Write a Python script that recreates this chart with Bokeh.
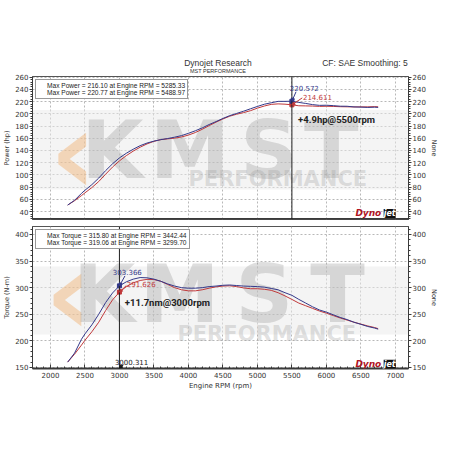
from bokeh.plotting import figure
from bokeh.models import (LinearAxis, SingleIntervalTicker, Label, Span, Arrow,
                          NormalHead, Legend, LegendItem, Range1d, BoxAnnotation)
from bokeh.layouts import column
from bokeh.embed import file_html
from bokeh.resources import INLINE

# ---------------- data ----------------
rpm = [2250, 2350, 2450, 2500, 2600, 2700, 2800, 2900, 3000, 3100, 3200, 3300, 3400,
       3500, 3600, 3700, 3800, 3900, 4000, 4100, 4200, 4300, 4400, 4500, 4600, 4700,
       4800, 4900, 5000, 5100, 5200, 5300, 5400, 5500, 5600, 5700, 5800, 5900, 6000,
       6100, 6200, 6300, 6400, 6500, 6600, 6700, 6750]

power_blue = [50.6, 58.4, 69.8, 74.8, 84.0, 94.8, 107.0, 118.1, 127.8, 135.4, 142.0, 147.8, 152.1,
              155.3, 157.7, 159.5, 161.7, 164.3, 168.0, 172.2, 176.9, 182.4, 187.2, 192.4, 197.0, 200.6,
              204.2, 208.2, 212.0, 215.6, 218.0, 220.3, 220.3, 220.6, 218.6, 216.9, 215.0, 213.8, 214.0,
              213.3, 212.4, 212.3, 211.2, 210.9, 210.4, 210.8, 210.4]
power_red = [50.6, 57.8, 66.1, 70.6, 79.2, 89.1, 101.1, 112.8, 122.9, 131.5, 138.9, 145.3, 150.7,
             154.9, 157.7, 159.0, 160.1, 162.1, 165.1, 169.3, 174.6, 180.6, 186.3, 191.5, 196.1, 199.3,
             201.9, 205.1, 209.2, 212.7, 215.4, 216.2, 215.7, 214.6, 213.1, 212.9, 212.6, 212.1, 212.3,
             212.0, 211.6, 211.4, 211.2, 211.3, 211.3, 211.7, 211.4]

torque_blue = [160, 177, 203, 213, 230, 250, 272, 290, 303.4, 311, 316, 319, 318.5,
               316, 312, 307, 303, 300, 299, 299, 300, 302, 303, 304.5, 305, 304,
               303, 302.5, 302, 301, 298.5, 296, 290.5, 285.6, 278, 271, 264, 258, 254,
               249, 244, 240, 235, 231, 227, 224, 222]
torque_red = [160, 175, 192, 201, 217, 235, 257, 277, 291.6, 302, 309, 313.5, 315.6,
              315.2, 312, 306, 300, 296, 294, 294, 296, 299, 301.5, 303, 303.5, 302,
              299.5, 298, 298, 297, 295, 290.5, 284.5, 277.9, 271, 266, 261, 256, 252,
              247.5, 243, 239, 235, 231.5, 228, 225, 223]

power_legend = ["Max Power = 216.10 at Engine RPM = 5285.33",
                "Max Power = 220.77 at Engine RPM = 5488.97"]
torque_legend = ["Max Torque = 315.80 at Engine RPM = 3442.44",
                 "Max Torque = 319.06 at Engine RPM = 3299.70"]

cursor_power_rpm = 5500
cursor_power_vals = [214.611, 220.572]      # red, blue
cursor_torque_rpm = 3000
cursor_torque_vals = [291.626, 303.366]     # red, blue
cursor_torque_x_label = "3000.311"
power_gain_text = "+4.9hp@5500rpm"
torque_gain_text = "+11.7nm@3000rpm"

RED = "#c0393b"
BLUE = "#34398a"
FONT = "DejaVu Sans"
LFONT = "Liberation Sans"
AX = "#3a3a3a"
XR = (1740, 7190)


def style(p, ylabel, y_interval):
    p.background_fill_color = "white"
    p.border_fill_color = "white"
    p.outline_line_color = "#555555"
    p.xgrid.ticker = SingleIntervalTicker(interval=500)
    p.ygrid.ticker = SingleIntervalTicker(interval=y_interval)
    for g in (p.xgrid, p.ygrid):
        g.grid_line_color = "#b8b8b8"
        g.grid_line_dash = "2 2"
        g.grid_line_width = 1
    xa = p.xaxis[0]
    xa.ticker = SingleIntervalTicker(interval=500, num_minor_ticks=5)
    xa.axis_line_color = AX
    xa.axis_line_width = 2
    xa.major_tick_in = 4
    xa.major_tick_out = 0
    xa.minor_tick_in = 2
    xa.minor_tick_out = 0
    xa.major_tick_line_color = AX
    xa.minor_tick_line_color = AX
    xa.major_label_text_font = FONT
    xa.major_label_text_font_size = "7px"
    xa.major_label_text_color = "#333333"
    xa.major_label_standoff = 3
    xa.axis_label_text_font = FONT
    xa.axis_label_text_font_size = "7px"
    xa.axis_label_text_font_style = "normal"
    xa.axis_label_text_color = "#333333"
    xa.axis_label_standoff = 1
    ya = p.yaxis[0]
    ya.ticker = SingleIntervalTicker(interval=y_interval, num_minor_ticks=5)
    ya.axis_label = ylabel
    right = LinearAxis(axis_label="None",
                       ticker=SingleIntervalTicker(interval=y_interval, num_minor_ticks=5))
    p.add_layout(right, "right")
    for a in (ya, right):
        a.axis_line_color = AX
        a.axis_line_width = 1
        a.major_tick_out = 3
        a.major_tick_in = 0
        a.minor_tick_out = 2
        a.minor_tick_in = 0
        a.major_tick_line_color = AX
        a.minor_tick_line_color = AX
        a.major_label_text_font = FONT
        a.major_label_text_font_size = "7px"
        a.major_label_text_color = "#333333"
        a.major_label_standoff = 1
        a.axis_label_text_font = FONT
        a.axis_label_text_font_size = "6.5px"
        a.axis_label_text_font_style = "normal"
        a.axis_label_text_color = "#333333"
        a.axis_label_standoff = 1


def watermark(p, band, letters, y_mst, x_perf, y_perf, x_chev, y_chev):
    p.add_layout(BoxAnnotation(bottom=band[0], top=band[1], fill_color="#e9e9e9",
                               fill_alpha=0.5, line_color=None, level="underlay"))
    p.add_layout(Label(x=x_chev, y=y_chev, text="‹", text_font=FONT, text_font_style="bold",
                       text_font_size="115px", text_color="#f0a860", text_alpha=0.4,
                       text_baseline="middle", text_align="center", level="underlay"))
    for letter, xc in zip("KMST", letters):
        p.add_layout(Label(x=xc, y=y_mst, text=letter, text_font=FONT, text_font_style="bold",
                           text_font_size="80px", text_color="#8a8a8a", text_alpha=0.28,
                           text_baseline="middle", text_align="center", level="underlay"))
    p.add_layout(Label(x=x_perf, y=y_perf, text="PERFORMANCE", text_font=FONT,
                       text_font_style="bold", text_font_size="21px",
                       text_color="#9a9a9a", text_alpha=0.3,
                       text_baseline="middle", text_align="left", level="underlay"))


def dynologo(p, y):
    p.add_layout(Label(x=6420, y=y, text="Dyno", text_font=FONT, text_font_style="bold italic",
                       text_font_size="9px", text_color="#b0141f", text_baseline="middle"))
    p.add_layout(Label(x=6830, y=y, text="jet", text_font=FONT, text_font_style="bold italic",
                       text_font_size="8px", text_color="white", text_baseline="middle",
                       background_fill_color="#111111"))


def make_legend(p, labels):
    r1 = p.scatter(x=[], y=[], marker="square", size=6, color=RED)
    r2 = p.scatter(x=[], y=[], marker="square", size=6, color=BLUE)
    leg = Legend(items=[LegendItem(label=labels[0], renderers=[r1]),
                        LegendItem(label=labels[1], renderers=[r2])],
                 location="top_left", margin=3, padding=2, spacing=0,
                 label_text_font=LFONT, label_text_font_size="6.6px", label_height=7,
                 glyph_height=7, glyph_width=7, label_standoff=2,
                 label_text_color="#222222",
                 border_line_color="#333333", border_line_width=1)
    p.add_layout(leg)


# ---------------- header strip ----------------
p0 = figure(width=440, height=73, x_range=Range1d(0, 440), y_range=Range1d(0, 73),
            output_backend="svg", toolbar_location=None,
            x_axis_location=None, y_axis_location=None,
            min_border_left=0, min_border_right=0, min_border_top=0, min_border_bottom=0)
p0.grid.visible = False
p0.outline_line_color = None
p0.add_layout(Label(x=217, y=11, text="Dynojet Research", text_font=LFONT,
                    text_font_size="8.5px", text_color="#333333", text_align="center",
                    text_baseline="middle"))
p0.add_layout(Label(x=217, y=3, text="MST PERFORMANCE", text_font=LFONT,
                    text_font_size="5.5px", text_color="#333333", text_align="center",
                    text_baseline="middle"))
p0.add_layout(Label(x=339, y=11, text="CF: SAE Smoothing: 5", text_font=LFONT,
                    text_font_size="8.5px", text_color="#333333", text_align="left",
                    text_baseline="middle"))

# ---------------- power panel ----------------
p1 = figure(width=440, height=149, x_range=Range1d(*XR), y_range=Range1d(27, 261),
            output_backend="svg", toolbar_location=None, frame_height=143,
            min_border_left=26, min_border_right=30, min_border_top=3, min_border_bottom=3)
style(p1, "Power (hp)", 20)
p1.xaxis.visible = False
p1.add_layout(Span(location=27, dimension="width", line_color=AX, line_width=3))
watermark(p1, (76, 206), [2900, 4020, 5170, 6070], 139.5, 4000, 94, 2330, 136)
dynologo(p1, 37)

p1.line(rpm, power_red, color=RED, line_width=1)
p1.line(rpm, power_blue, color=BLUE, line_width=1)
make_legend(p1, power_legend)

p1.add_layout(Span(location=cursor_power_rpm, dimension="height", line_color="#222222", line_width=1))
p1.scatter([cursor_power_rpm, cursor_power_rpm], cursor_power_vals, marker="square", size=4,
           color=[RED, BLUE])
p1.add_layout(Label(x=5470, y=242, text="220.572", text_font=FONT, text_font_size="7px",
                    text_color="#34398a", text_baseline="middle"))
p1.add_layout(Label(x=5660, y=227, text="214.611", text_font=FONT, text_font_size="7px",
                    text_color=RED, text_baseline="middle"))
p1.add_layout(Arrow(end=NormalHead(size=3, line_color=BLUE, fill_color=BLUE),
                    x_start=5560, y_start=236, x_end=cursor_power_rpm, y_end=cursor_power_vals[1],
                    line_color=BLUE, line_width=1))
p1.add_layout(Arrow(end=NormalHead(size=3, line_color=RED, fill_color=RED),
                    x_start=5650, y_start=226, x_end=cursor_power_rpm, y_end=cursor_power_vals[0],
                    line_color=RED, line_width=1))
p1.add_layout(Label(x=5590, y=190, text=power_gain_text, text_font="Roboto",
                    text_font_style="bold", text_font_size="9.5px", text_color="#222222",
                    text_baseline="middle"))

# ---------------- torque panel ----------------
p2 = figure(width=440, height=168, x_range=Range1d(*XR), y_range=Range1d(148, 415),
            output_backend="svg", toolbar_location=None, frame_height=142,
            min_border_left=26, min_border_right=30, min_border_top=4, min_border_bottom=18)
style(p2, "Torque (N-m)", 50)
p2.xaxis[0].axis_label = "Engine RPM (rpm)"
watermark(p2, (212, 340), [2780, 3870, 5100, 6160], 287, 3840, 212, 2260, 289)
dynologo(p2, 156)

p2.line(rpm, torque_red, color=RED, line_width=1)
p2.line(rpm, torque_blue, color=BLUE, line_width=1)
make_legend(p2, torque_legend)

p2.add_layout(Span(location=cursor_torque_rpm, dimension="height", line_color="#222222", line_width=1))
p2.scatter([cursor_torque_rpm, cursor_torque_rpm], cursor_torque_vals, marker="square", size=4,
           color=[RED, BLUE])
p2.add_layout(Label(x=2905, y=329, text="303.366", text_font=FONT, text_font_size="7px",
                    text_color=BLUE, text_baseline="middle"))
p2.add_layout(Label(x=3106, y=306, text="291.626", text_font=FONT, text_font_size="7px",
                    text_color=RED, text_baseline="middle"))
p2.add_layout(Arrow(end=NormalHead(size=3, line_color=BLUE, fill_color=BLUE),
                    x_start=3080, y_start=322, x_end=cursor_torque_rpm, y_end=cursor_torque_vals[1],
                    line_color=BLUE, line_width=1))
p2.add_layout(Arrow(end=NormalHead(size=3, line_color=RED, fill_color=RED),
                    x_start=3100, y_start=304, x_end=cursor_torque_rpm, y_end=cursor_torque_vals[0],
                    line_color=RED, line_width=1))
p2.add_layout(Label(x=3078, y=272, text=torque_gain_text, text_font="Roboto",
                    text_font_style="bold", text_font_size="9.5px", text_color="#222222",
                    text_baseline="middle"))
p2.add_layout(Label(x=2934, y=160, text=cursor_torque_x_label, text_font=FONT,
                    text_font_size="7px", text_color="#222222", text_baseline="middle"))
p2.add_layout(Arrow(end=NormalHead(size=3, line_color="#111111", fill_color="#111111"),
                    x_start=3060, y_start=155, x_end=cursor_torque_rpm, y_end=149,
                    line_color="#111111", line_width=1))

layout = column(p0, p1, p2, spacing=0)
open("out.html", "w").write(file_html(layout, INLINE))
